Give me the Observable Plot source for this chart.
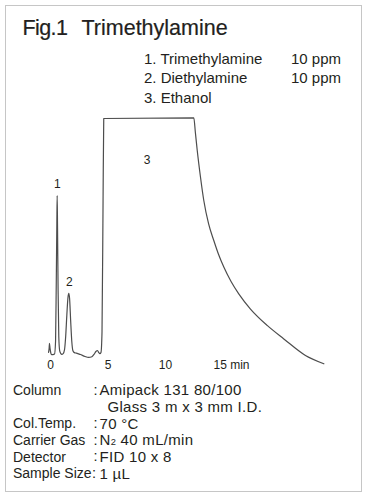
<!DOCTYPE html>
<html>
<head>
<meta charset="utf-8">
<script src="https://cdn.jsdelivr.net/npm/d3@7"></script>
<script src="https://cdn.jsdelivr.net/npm/@observablehq/plot@0.6"></script>
<style>
html, body { margin: 0; padding: 0; background: #fff; }
#fig { position: relative; width: 366px; height: 498px; font-family: "Liberation Sans", Arial, sans-serif; color: #231f20; overflow: hidden; }
#frame { position: absolute; left: 5px; top: 5px; width: 357px; height: 487px; border: 1.5px solid #c6c6c6; box-sizing: border-box; }
.t { position: absolute; white-space: pre; line-height: 1; }
#chart { position: absolute; left: 0; top: 110px; }
</style>
</head>
<body>
<div id="fig">
  <div id="frame"></div>
  <div id="chart"></div>
</div>
<script>
// ---- text content ----
const titleParts = ["Fig.1", "Trimethylamine"];
const compounds = ["1. Trimethylamine", "2. Diethylamine", "3. Ethanol"];
const concentrations = ["10 ppm", "10 ppm", ""];
const conditionLabels = ["Column", "", "Col.Temp.", "Carrier Gas", "Detector", "Sample Size"];
const conditionValues = ["Amipack 131 80/100", "Glass 3 m x 3 mm I.D.", "70 °C", "N₂ 40 mL/min", "FID 10 x 8", "1 µL"];

// ---- chromatogram (time in min, detector response in % of full scale) ----
const times = [
  -0.17, -0.12, -0.09, -0.04, 0.04, 0.09, 0.22, 0.35, 0.44, 0.50, 0.55, 0.58, 0.61, 0.66, 0.72, 0.80, 0.90, 0.98,
  1.10, 1.22, 1.32, 1.42, 1.52, 1.59, 1.66, 1.75, 1.85, 1.95, 2.08, 2.25, 2.60, 3.00, 3.30, 3.60, 3.80, 3.95,
  4.09, 4.20, 4.30, 4.39, 4.48, 4.57, 4.63, 12.46, 12.60, 12.76, 13.05, 13.33, 13.75, 14.20, 14.60, 15.07,
  15.70, 16.37, 17.39, 18.84, 20.29, 22.17, 23.77
];
const response = [
  1.3, 3.0, 5.1, 3.0, 0.8, 0.4, 0.4, 0.6, 6, 30, 55, 67.5, 55, 28, 8, 2, 0.8, 0.5,
  0.8, 2.5, 8, 17, 24.5, 26.2, 24, 15, 6, 2.0, 1.2, 1.0, 0.4, -0.4, -0.8, -0.5, 0.6, 1.7,
  2.1, 1.2, 0.8, 1.3, 10, 65, 100, 100.3, 94, 86.5, 75, 65.4, 55.5, 48.5, 42.8, 37.3,
  31.2, 26.0, 19.6, 12.7, 7.0, 0, -3.5
];

// peak annotations
const peakNames = ["1", "2", "3"];
const peakTimes = [0.6, 1.63, 8.4];
const peakLabelLevels = [72.5, 31, 82.3];

// x axis
const xTicks = [0, 5, 10, 15];
const timeUnit = "min";

// ---- build HTML text ----
const fig = document.getElementById("fig");
function addText(str, left, baseline, size, extra = "") {
  const d = document.createElement("div");
  d.className = "t";
  d.style.left = left + "px";
  d.style.top = (baseline - 0.8465 * size) + "px";
  d.style.fontSize = size + "px";
  d.style.cssText += extra;
  d.innerHTML = str.replace("₂", '<span style="font-size:0.62em">2</span>');
  fig.appendChild(d);
}
const titleStyle = "-webkit-text-stroke:0.2px #231f20;";
addText(titleParts[0], 22.5, 36, 21.5, titleStyle + "letter-spacing:-0.6px;");
addText(titleParts[1], 81.5, 36, 21.5, titleStyle);
compounds.forEach((c, i) => {
  addText(c, 144, 63.3 + i * 19.7, 15);
  if (concentrations[i]) addText(concentrations[i], 291, 63.3 + i * 19.7, 15);
});
conditionLabels.forEach((lab, i) => {
  const b = 395 + i * 16.65;
  if (lab) addText(lab, 13, b, 14);
  if (lab) addText(":", lab === "Sample Size" ? 92 : 93.5, b, 14.5);
  addText(conditionValues[i], lab ? 99.5 : 107.5, b, 15, "letter-spacing:0.3px;");
});

// ---- chart ----
const trace = times.map((t, i) => ({ t, v: response[i] }));
const peaks = peakNames.map((name, i) => ({ name, t: peakTimes[i], v: peakLabelLevels[i] }));

const chart = Plot.plot({
  width: 366,
  height: 270,
  marginTop: 0,
  marginBottom: 25,
  marginLeft: 0,
  marginRight: 0,
  x: { domain: [0, 15], range: [50, 222.5], label: null },
  y: { domain: [0, 100], range: [245, 8], axis: null, label: null },
  style: { fontFamily: "'Liberation Sans', Arial, sans-serif", fontSize: "12px", color: "#231f20", background: "transparent", overflow: "visible" },
  marks: [
    Plot.line(trace, { x: "t", y: "v", stroke: "#4d4d4d", strokeWidth: 1.2, curve: "monotone-x" }),
    Plot.text(peaks, { x: "t", y: "v", text: "name", fontSize: 12, fill: "#231f20" }),
    Plot.axisX(xTicks.slice(0, 3), { tickSize: 0, tickPadding: 5, tickFormat: d => `${d}`, fontSize: 12, label: null }),
    Plot.axisX(xTicks.slice(3), { tickSize: 0, tickPadding: 5, tickFormat: d => `${d} ${timeUnit}`, textAnchor: "start", dx: -9.5, fontSize: 12, label: null })
  ]
});
document.getElementById("chart").appendChild(chart);
</script>
</body>
</html>
